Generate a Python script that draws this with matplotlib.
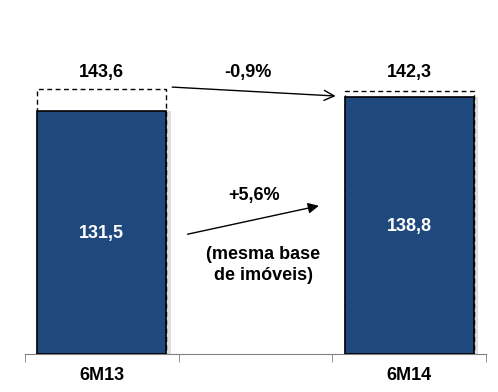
import matplotlib.pyplot as plt
from matplotlib.ticker import FixedLocator

plt.rcParams['font.family'] = ['Liberation Sans', 'DejaVu Sans']

# dados
categorias = ["6M13", "6M14"]
posicoes = [0, 2]
base_mesma = [131.5, 138.8]
total = [143.6, 142.3]
rotulos_base = ["131,5", "138,8"]
rotulos_total = ["143,6", "142,3"]
var_total = "-0,9%"
var_mesma = "+5,6%"

azul = "#1F487C"
largura = 0.84

fig = plt.figure(figsize=(4.98, 3.92), dpi=100)
ax = fig.add_axes([0.0502, 0.0969, 0.9257, 0.852])

# sombra leve
for x, b in zip(posicoes, base_mesma):
    ax.bar(x + 0.03, b, width=largura, color="#dddddd", zorder=1, linewidth=0)

# parte tracejada (total) e parte sólida (mesma base)
ax.bar(posicoes, total, width=largura, facecolor="white", edgecolor="black",
       linestyle=(0, (3.5, 2.5)), linewidth=1, zorder=2)
ax.bar(posicoes, base_mesma, width=largura, facecolor=azul, edgecolor="black",
       linewidth=1.2, zorder=3)

for x, b, lb, lt in zip(posicoes, base_mesma, rotulos_base, rotulos_total):
    ax.text(x, b / 2 - 0.5, lb, ha="center", va="center",
            color="white", fontsize=13, fontweight="bold", zorder=4)
    ax.text(x, 152.5, lt, ha="center", va="center", fontsize=13, fontweight="bold")

# setas
ax.annotate("", xy=(1.54, 139.5), xytext=(0.44, 144.5),
            arrowprops=dict(arrowstyle="->", color="black", lw=1,
                            mutation_scale=18))
ax.text(0.95, 152.5, var_total, ha="center", va="center", fontsize=13, fontweight="bold")

ax.annotate("", xy=(1.43, 80.5), xytext=(0.54, 64.5),
            arrowprops=dict(arrowstyle="-|>", color="black", lw=1,
                            mutation_scale=16))
ax.text(0.99, 85.5, var_mesma, ha="center", va="center", fontsize=13, fontweight="bold")
ax.text(1.05, 48, "(mesma base\nde imóveis)", ha="center", va="center",
        fontsize=13, fontweight="bold", linespacing=1.3)

ax.set_xlim(-0.5, 2.5)
ax.set_ylim(0, 180.7)
for s in ["top", "right", "left"]:
    ax.spines[s].set_visible(False)
ax.spines["bottom"].set_color("#808080")
ax.set_yticks([])
ax.set_xticks(posicoes)
ax.set_xticklabels(categorias, fontsize=13, fontweight="bold")
ax.tick_params(axis="x", which="major", length=0, pad=9)
ax.xaxis.set_minor_locator(FixedLocator([-0.5, 0.5, 1.5, 2.5]))
ax.tick_params(axis="x", which="minor", length=6, color="#808080", direction="out")

fig.savefig("out.png", dpi=100)
